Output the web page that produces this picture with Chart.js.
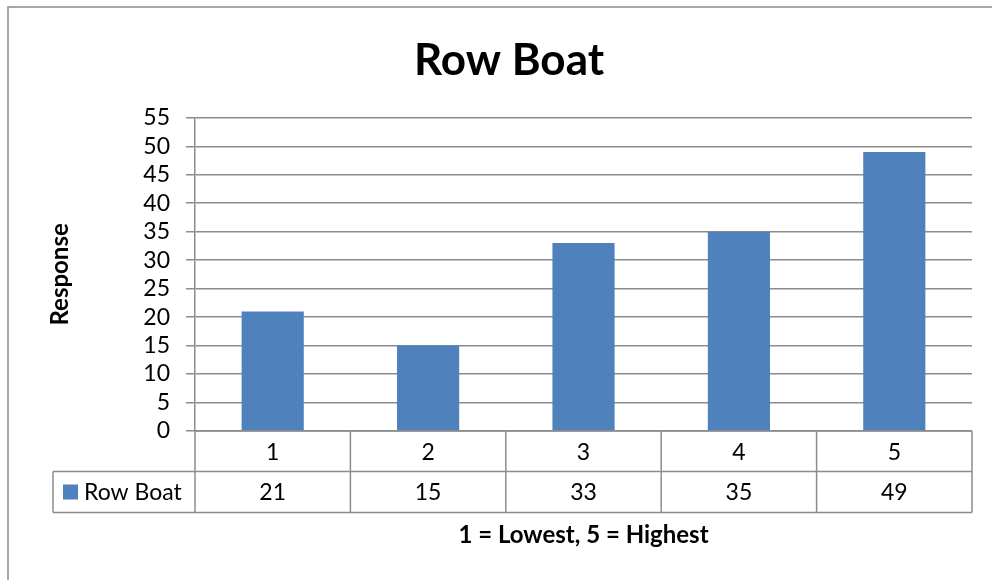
<!DOCTYPE html>
<html>
<head>
<meta charset="utf-8">
<title>Row Boat</title>
<script src="https://cdn.jsdelivr.net/npm/chart.js@4/dist/chart.umd.min.js"></script>
<style>
    html, body { margin: 0; padding: 0; background: #fff; }
    #wrap { width: 992px; height: 580px; position: relative; }
</style>
</head>
<body>
<div id="wrap"><canvas id="chartRowBoat"></canvas></div>
<script>
// ============================================================
//  Datos
// ============================================================
const categories = ['1', '2', '3', '4', '5'];
const seriesName = 'Row Boat';
const values = [21, 15, 33, 35, 49];
const yTicks = [0, 5, 10, 15, 20, 25, 30, 35, 40, 45, 50, 55];

const FONT = 'Lato, "Open Sans", sans-serif';
const GRID = '#8c8c8c';
const BAR = '#4f81bd';

// ============================================================
//  Marco exterior del gráfico
// ============================================================
const framePlugin = {
    id: 'frame',
    beforeDraw(chart) {
        const c = chart.ctx;
        c.save();
        c.fillStyle = '#fff';
        c.fillRect(0, 0, chart.width, chart.height);
        c.strokeStyle = GRID;
        c.lineWidth = 1.5;
        c.beginPath();
        c.moveTo(8, chart.height + 2);
        c.lineTo(8, 7);
        c.lineTo(chart.width + 2, 7);
        c.stroke();
        c.restore();
    }
};

// ============================================================
//  Tabla de datos bajo el eje X (categorías + valores + leyenda)
// ============================================================
const dataTablePlugin = {
    id: 'dataTable',
    afterDraw(chart) {
        const c = chart.ctx;
        const x = chart.scales.x;
        const area = chart.chartArea;
        const top = area.bottom;
        const mid = top + 40.5;
        const bot = top + 81.5;
        const legendLeft = 53;
        const step = (area.right - area.left) / categories.length;

        c.save();
        c.strokeStyle = GRID;
        c.lineWidth = 1.5;
        c.beginPath();
        // horizontales
        c.moveTo(area.left, top); c.lineTo(area.right, top);
        c.moveTo(legendLeft, mid); c.lineTo(area.right, mid);
        c.moveTo(legendLeft, bot); c.lineTo(area.right, bot);
        // verticales
        c.moveTo(legendLeft, mid); c.lineTo(legendLeft, bot);
        for (let i = 0; i <= categories.length; i++) {
            const px = area.left + i * step;
            c.moveTo(px, top); c.lineTo(px, bot);
        }
        c.stroke();

        c.fillStyle = '#000';
        c.font = '23px ' + FONT;
        c.textAlign = 'center';
        c.textBaseline = 'middle';
        categories.forEach((cat, i) => {
            const px = x.getPixelForValue(i);
            c.fillText(cat, px, (top + mid) / 2 + 1);
            c.fillText(String(values[i]), px, (mid + bot) / 2 + 1);
        });

        // clave de leyenda
        c.fillStyle = BAR;
        c.fillRect(63, mid + 13, 15, 15);
        c.fillStyle = '#000';
        c.textAlign = 'left';
        c.fillText(seriesName, 84, (mid + bot) / 2 + 1);
        c.restore();
    }
};

// ============================================================
//  Gráfico de barras
// ============================================================
const ctx = document.getElementById('chartRowBoat').getContext('2d');
new Chart(ctx, {
    type: 'bar',
    data: {
        labels: categories,
        datasets: [{
            label: seriesName,
            data: values,
            backgroundColor: BAR,
            borderWidth: 0,
            categoryPercentage: 1,
            barPercentage: 0.4
        }]
    },
    options: {
        responsive: true,
        maintainAspectRatio: false,
        animation: false,
        layout: { padding: { left: 46, right: 20, top: 0, bottom: 0 } },
        plugins: {
            legend: { display: false },
            tooltip: { enabled: false },
            title: {
                display: true,
                text: 'Row Boat',
                color: '#000',
                font: { size: 44, weight: 'bold', family: FONT, lineHeight: 1.2 },
                padding: { top: 34, bottom: 31 }
            }
        },
        scales: {
            x: {
                ticks: { display: false },
                grid: { display: false },
                border: { display: false },
                title: {
                    display: true,
                    text: '1 = Lowest, 5 = Highest',
                    color: '#000',
                    font: { size: 24, weight: 'bold', family: FONT, lineHeight: 1.2 },
                    padding: { top: 0, bottom: 30 }
                },
                afterFit: s => { s.height = 149; }
            },
            y: {
                min: 0,
                max: 55,
                afterBuildTicks: s => { s.ticks = yTicks.map(v => ({ value: v })); },
                ticks: {
                    color: '#000',
                    padding: 16,
                    autoSkip: false,
                    font: { size: 23, family: FONT }
                },
                grid: { color: GRID, lineWidth: 1.5, tickLength: 9 },
                border: { color: GRID, width: 1.5 },
                title: {
                    display: true,
                    text: 'Response',
                    color: '#000',
                    font: { size: 24, weight: 'bold', family: FONT, lineHeight: 1.2 },
                    padding: { top: 0, bottom: 0 }
                },
                afterFit: s => { s.width = 149; }
            }
        }
    },
    plugins: [framePlugin, dataTablePlugin]
});
</script>
</body>
</html>
